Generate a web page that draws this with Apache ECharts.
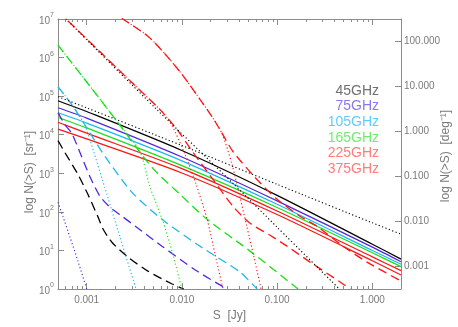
<!DOCTYPE html>
<html>
<head>
<meta charset="utf-8">
<script src="https://cdn.jsdelivr.net/npm/echarts@6/dist/echarts.min.js"></script>
<style>
  html, body { margin: 0; padding: 0; background: #fff; }
  #chart { width: 458px; height: 327px; }
</style>
</head>
<body>
<div id="chart"></div>
<script>
// frequencies shown in the legend
const freqs = ['45GHz', '75GHz', '105GHz', '165GHz', '225GHz', '375GHz']

// [S (Jy), N(>S) (sr^-1)]
// solid lines
const solid45 = [[0.0005, 7.6e4], [0.001, 4.0e4], [0.01, 3900], [0.1, 268], [1, 14.5], [2, 5.96]]
const solid75 = [[0.0005, 5.0e4], [0.001, 2.7e4], [0.01, 2650], [0.1, 193], [1, 12.2], [2, 5.1]]
const solid105 = [[0.0005, 3.7e4], [0.001, 2.0e4], [0.01, 2100], [0.1, 157], [1, 10.0], [2, 4.4]]
const solid165 = [[0.0005, 2.8e4], [0.001, 1.5e4], [0.01, 1580], [0.1, 130], [1, 8.7], [2, 3.8]]
const solid225 = [[0.0005, 2.1e4], [0.001, 1.1e4], [0.01, 1320], [0.1, 105], [1, 6.8], [2, 3.0]]
const solid375 = [[0.0005, 1.4e4], [0.001, 7.8e3], [0.01, 1020], [0.1, 85], [1, 5.4], [2, 2.3]]

// dashed lines
const dash45 = [[0.0005, 7000], [0.00059, 3470], [0.00081, 935], [0.00103, 285], [0.00132, 72], [0.00149, 35.5],
  [0.00185, 16], [0.00272, 6.7], [0.0044, 2.9], [0.0079, 1.35], [0.0105, 1]]
const dash75 = [[0.0005, 3.74e4], [0.00059, 1.83e4], [0.0007, 1.07e4], [0.00085, 3460], [0.00108, 830],
  [0.00138, 253], [0.00176, 131], [0.00235, 77], [0.00381, 31.5], [0.00618, 12.9], [0.0144, 2.92], [0.0298, 1]]
const dash105 = [[0.0005, 1.75e5], [0.0007, 6.0e4], [0.00106, 1.21e4], [0.00156, 2730], [0.00299, 321],
  [0.00618, 64], [0.0144, 14.5], [0.0234, 6.7], [0.0408, 2.75], [0.0616, 1]]
const dash165 = [[0.0005, 2.1e6], [0.00096, 2.66e5], [0.00213, 2.06e4], [0.00485, 1420], [0.00955, 285],
  [0.0184, 64], [0.052, 9.6], [0.166, 1]]
const dash225 = [[0.0005, 1.57e7], [0.000606, 1e7], [0.00138, 1.41e6], [0.00285, 2.5e5], [0.00589, 4.47e4],
  [0.0089, 1.36e4], [0.0131, 3460], [0.0212, 695], [0.0344, 139], [0.052, 50.7], [0.0843, 24.8],
  [0.127, 12.9], [0.222, 4.98], [0.459, 1.52], [0.585, 1]]
const dash375 = [[0.00176, 1.71e7], [0.0024, 1e7], [0.0046, 3.24e6], [0.00955, 4.28e5], [0.0207, 2.95e4],
  [0.0251, 1.36e4], [0.0344, 3670], [0.0586, 782], [0.1, 211], [0.174, 77], [0.262, 42.4], [0.492, 12.9],
  [0.88, 4.98], [2, 1.61]]

// dotted lines
const dot45a = [[0.0005, 9.7e4], [0.001, 4.97e4], [0.01, 5250], [0.1, 516], [1, 52], [2, 26.4]]
const dot45b = [[0.0005, 1.6e7], [0.000606, 1e7], [0.00547, 4.47e4], [0.0344, 550], [0.1, 40], [0.45, 1]]
const dot75 = [[0.0005, 177], [0.000563, 77], [0.000668, 22], [0.00081, 5.3], [0.001, 1]]
const dot105 = [[0.0005, 1.75e5], [0.0007, 6.0e4], [0.00094, 1.94e4], [0.00108, 7500], [0.00156, 406],
  [0.00224, 22], [0.0033, 1]]
const dot165 = [[0.0005, 2.1e6], [0.00096, 2.66e5], [0.00213, 2.06e4], [0.00363, 3670], [0.0046, 458],
  [0.00632, 57], [0.00787, 9.6], [0.01, 1]]
const dot225 = [[0.0005, 1.57e7], [0.000606, 1e7], [0.00138, 1.41e6], [0.00285, 2.5e5], [0.00589, 4.47e4],
  [0.0075, 2.19e4], [0.0108, 3070], [0.0141, 516], [0.0184, 64], [0.0223, 8.0], [0.027, 1]]
const dot375 = [[0.00176, 1.71e7], [0.0024, 1e7], [0.0046, 3.24e6], [0.00955, 4.28e5], [0.0207, 2.95e4],
  [0.0264, 1.07e4], [0.0336, 1695], [0.0408, 238], [0.0483, 40], [0.0572, 6.7], [0.0678, 1]]

// tick labels
const xTicks = [0.001, 0.01, 0.1, 1]
const yTicks = [1, 10, 100, 1e3, 1e4, 1e5, 1e6, 1e7]
const rightTicks = [0.001, 0.01, 0.1, 1, 10, 100]

const SR_PER_DEG2 = 3282.8
const xMin = 0.0005, xMax = 2

// colours
const lineColors = ['#000000', '#5028e0', '#18b8f0', '#18e018', '#ff1414', '#ff1414']
const legendColors = ['#707070', '#8a78f0', '#62ccff', '#70ec70', '#ff7c7c', '#ff7c7c']
const axisGrey = '#8c8c8c'
const textGrey = '#7a7a7a'
const font = 'Liberation Sans'

// minor ticks 2..9 in each decade
const xMinor = []
for (let e = -4; e <= 0; e++) {
  for (let m = 2; m <= 9; m++) {
    const v = Number((m * Math.pow(10, e)).toPrecision(3))
    if (v > xMin && v < xMax) xMinor.push(v)
  }
}

function mk (data, color, kind) {
  const styles = {
    solid: { type: 'solid', width: 1.2 },
    dashed: { type: [9, 5], width: 1.3 },
    dotted: { type: [1.2, 2.4], width: 1.1 }
  }
  return {
    type: 'line',
    data: data,
    symbol: 'none',
    smooth: 0.25,
    silent: true,
    lineStyle: Object.assign({ color: color }, styles[kind])
  }
}

const series = [
  mk(solid45, lineColors[0], 'solid'),
  mk(solid75, lineColors[1], 'solid'),
  mk(solid105, lineColors[2], 'solid'),
  mk(solid165, lineColors[3], 'solid'),
  mk(solid225, lineColors[4], 'solid'),
  mk(solid375, lineColors[5], 'solid'),
  mk(dash45, lineColors[0], 'dashed'),
  mk(dash75, lineColors[1], 'dashed'),
  mk(dash105, lineColors[2], 'dashed'),
  mk(dash165, lineColors[3], 'dashed'),
  mk(dash225, lineColors[4], 'dashed'),
  mk(dash375, lineColors[5], 'dashed'),
  mk(dot45a, lineColors[0], 'dotted'),
  mk(dot45b, lineColors[0], 'dotted'),
  mk(dot75, lineColors[1], 'dotted'),
  mk(dot105, lineColors[2], 'dotted'),
  mk(dot165, lineColors[3], 'dotted'),
  mk(dot225, lineColors[4], 'dotted'),
  mk(dot375, lineColors[5], 'dotted')
]

function xAxisDef (position, ticks, len, showLine, showLabel) {
  return {
    type: 'log',
    position: position,
    min: xMin,
    max: xMax,
    axisLine: { show: showLine, lineStyle: { color: axisGrey, width: 1 } },
    axisTick: { show: true, inside: true, length: len, customValues: ticks, lineStyle: { color: axisGrey } },
    axisLabel: showLabel ? {
      customValues: xTicks,
      formatter: v => v.toFixed(3),
      color: textGrey, fontSize: 10, fontFamily: font, margin: 6
    } : { show: false },
    splitLine: { show: false },
    minorTick: { show: false }
  }
}

const myChart = echarts.init(document.getElementById('chart'))
myChart.setOption({
  animation: false,
  backgroundColor: '#fff',
  grid: { left: 58, right: 57, top: 19, bottom: 37 },
  xAxis: [
    Object.assign(xAxisDef('bottom', xTicks, 6, true, true), {
      name: 'S  [Jy]',
      nameLocation: 'middle',
      nameGap: 21,
      nameTextStyle: { color: textGrey, fontSize: 12, fontFamily: font }
    }),
    xAxisDef('bottom', xMinor, 3, false, false),
    xAxisDef('top', xTicks, 6, true, false),
    xAxisDef('top', xMinor, 3, false, false)
  ],
  yAxis: [
    {
      type: 'log',
      position: 'left',
      min: 1,
      max: 1e7,
      axisLine: { show: true, lineStyle: { color: axisGrey } },
      axisTick: { inside: true, length: 6, customValues: yTicks, lineStyle: { color: axisGrey } },
      axisLabel: {
        customValues: yTicks,
        margin: 4,
        formatter: v => '{b|10}{s|' + Math.round(Math.log10(v)) + '}',
        rich: {
          b: { fontSize: 10, fontFamily: font, color: textGrey, lineHeight: 14, verticalAlign: 'bottom' },
          s: { fontSize: 7, fontFamily: font, color: textGrey, lineHeight: 7, verticalAlign: 'top' }
        }
      },
      splitLine: { show: false }
    },
    {
      // deg^-2 scale as printed on the right
      type: 'log',
      position: 'right',
      min: 1 / SR_PER_DEG2,
      max: 1e6 / SR_PER_DEG2,
      axisLine: { show: true, lineStyle: { color: axisGrey } },
      axisTick: { inside: true, length: 6, customValues: rightTicks, lineStyle: { color: axisGrey } },
      axisLabel: {
        customValues: rightTicks,
        margin: 3,
        formatter: v => v.toFixed(3),
        color: textGrey, fontSize: 10, fontFamily: font
      },
      splitLine: { show: false }
    }
  ],
  graphic: [
    {
      type: 'text', x: 30, y: 172, rotation: Math.PI / 2,
      style: { text: 'log N(>S)  [sr⁻¹]', fill: textGrey, font: '12px "Liberation Sans"',
        align: 'center', verticalAlign: 'middle', textAlign: 'center', textVerticalAlign: 'middle' }
    },
    {
      type: 'text', x: 446, y: 156, rotation: Math.PI / 2,
      style: { text: 'log N(>S)  [deg⁻¹]', fill: textGrey, font: '12px "Liberation Sans"',
        align: 'center', verticalAlign: 'middle', textAlign: 'center', textVerticalAlign: 'middle' }
    }
  ].concat(freqs.map((f, i) => ({
    type: 'text', x: 379, y: 91 + i * 15.6,
    style: { text: f, fill: legendColors[i], font: '14px "Liberation Sans"',
      align: 'right', verticalAlign: 'middle', textAlign: 'right', textVerticalAlign: 'middle' }
  }))),
  series: series
})
</script>
</body>
</html>
